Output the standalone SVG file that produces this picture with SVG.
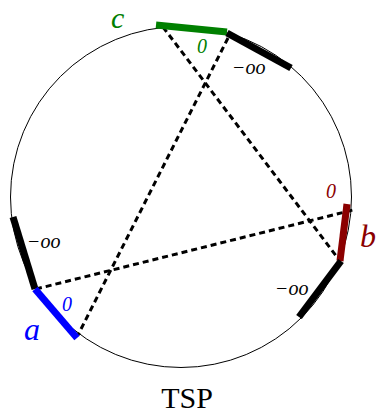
<svg xmlns="http://www.w3.org/2000/svg" width="377" height="415" viewBox="0 0 377 415">
<style>
.lbl{font-family:'Liberation Serif','Times New Roman',serif;font-style:italic}
.big{font-size:32px}
.sm{font-size:20px}
.seg{stroke-width:7;stroke-linecap:butt;fill:none}
.dash{stroke:#000;stroke-width:3;stroke-dasharray:6,4;fill:none}
</style>
<rect width="377" height="415" fill="#fff"/>
<circle id="circle" cx="181" cy="197" r="170.5" fill="none" stroke="#000" stroke-width="1"/>
<g id="connectors">
<line class="dash" x1="163" y1="27" x2="337" y2="257"/>
<line class="dash" x1="228" y1="38" x2="78" y2="335"/>
<line class="dash" x1="36" y1="289" x2="353" y2="210"/>
</g>
<g id="c"><line class="seg" x1="156" y1="25" x2="227" y2="32" stroke="#008000"/><text class="lbl" font-size="30" x="111" y="28" fill="#008000">c</text><text class="lbl sm" x="197" y="53" fill="#008000">0</text></g>
<g id="top-neg"><line class="seg" x1="227" y1="33" x2="291" y2="68" stroke="#000"/><text class="lbl sm" x="232" y="74" fill="#000">−oo</text></g>
<g id="left-neg"><line class="seg" x1="13" y1="217" x2="35" y2="289" stroke="#000"/><text class="lbl sm" x="27" y="248" fill="#000">−oo</text></g>
<g id="a"><line class="seg" x1="35" y1="289" x2="77" y2="338" stroke="#0000ff"/><text class="lbl sm" x="62" y="311" fill="#0000ff">0</text><text class="lbl big" x="24" y="340" fill="#0000ff">a</text></g>
<g id="b"><line class="seg" x1="347" y1="204" x2="340" y2="261" stroke="#8b0000"/><text class="lbl sm" x="326" y="198" fill="#8b0000">0</text><text class="lbl big" x="360" y="247" fill="#8b0000">b</text></g>
<g id="br-neg"><line class="seg" x1="341" y1="261" x2="299" y2="317" stroke="#000"/><text class="lbl sm" x="275" y="295" fill="#000">−oo</text></g>
<text x="187" y="408" text-anchor="middle" font-family="'Liberation Serif',serif" font-size="30">TSP</text>
</svg>
